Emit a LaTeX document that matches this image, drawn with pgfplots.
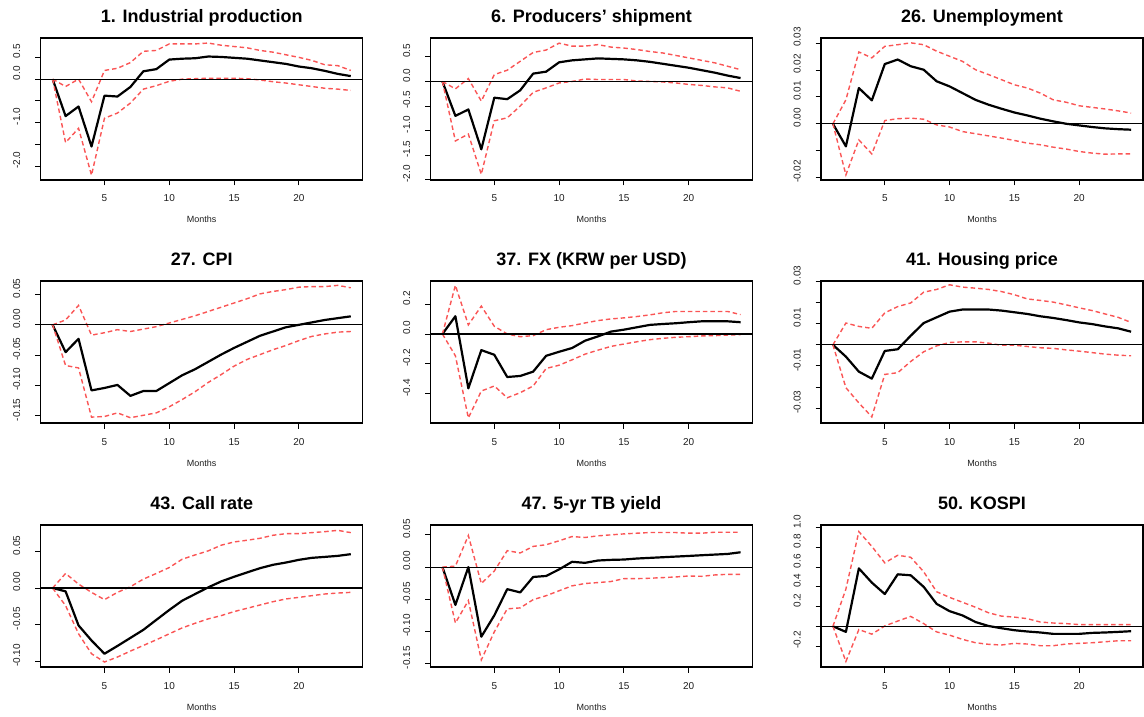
\documentclass[border=0pt]{standalone}
\usepackage{fontspec}
\setmainfont{Liberation Sans}
\usepackage{pgfplots}
\usepackage{pgfplotstable}
\pgfplotsset{compat=1.18}
\definecolor{cired}{RGB}{250,85,85}
\definecolor{txt}{RGB}{30,30,30}

% Panel data: month, impulse response, upper band, lower band
\pgfplotstableread{
m irf hi lo
1 0 0 0
2 -0.85 -0.17 -1.46
3 -0.63 0.00 -1.13
4 -1.55 -0.52 -2.21
5 -0.38 0.20 -0.90
6 -0.40 0.25 -0.78
7 -0.18 0.38 -0.55
8 0.18 0.64 -0.23
9 0.23 0.66 -0.15
10 0.45 0.81 -0.05
11 0.47 0.81 0.00
12 0.48 0.81 0.01
13 0.52 0.83 0.02
14 0.51 0.78 0.02
15 0.49 0.75 0.02
16 0.47 0.72 0.01
17 0.43 0.66 -0.02
18 0.39 0.62 -0.06
19 0.35 0.56 -0.09
20 0.29 0.50 -0.13
21 0.25 0.43 -0.17
22 0.19 0.33 -0.21
23 0.12 0.31 -0.23
24 0.07 0.20 -0.26
}\tabA
\pgfplotstableread{
m irf hi lo
1 0 0 0
2 -0.70 -0.15 -1.21
3 -0.57 0.06 -1.07
4 -1.38 -0.40 -1.89
5 -0.33 0.14 -0.80
6 -0.36 0.23 -0.74
7 -0.18 0.41 -0.50
8 0.16 0.59 -0.22
9 0.20 0.64 -0.13
10 0.39 0.78 -0.03
11 0.43 0.72 0.00
12 0.45 0.72 0.05
13 0.47 0.75 0.04
14 0.46 0.70 0.04
15 0.45 0.68 0.04
16 0.43 0.65 0.01
17 0.40 0.61 0.00
18 0.36 0.58 -0.01
19 0.32 0.53 -0.03
20 0.28 0.48 -0.06
21 0.23 0.43 -0.08
22 0.18 0.38 -0.11
23 0.12 0.31 -0.13
24 0.07 0.24 -0.20
}\tabB
\pgfplotstableread{
m irf hi lo
1 0 0 0
2 -0.0084 0.0089 -0.0190
3 0.0133 0.0267 -0.0060
4 0.0087 0.0245 -0.0112
5 0.0222 0.0288 0.0012
6 0.0239 0.0294 0.0019
7 0.0214 0.0301 0.0021
8 0.0201 0.0294 0.0017
9 0.0158 0.0270 -0.0004
10 0.0139 0.0251 -0.0012
11 0.0114 0.0232 -0.0029
12 0.0089 0.0201 -0.0037
13 0.0071 0.0183 -0.0045
14 0.0056 0.0164 -0.0053
15 0.0042 0.0145 -0.0062
16 0.0031 0.0133 -0.0072
17 0.0019 0.0114 -0.0078
18 0.0009 0.0089 -0.0087
19 0.0000 0.0080 -0.0094
20 -0.0006 0.0067 -0.0103
21 -0.0012 0.0061 -0.0109
22 -0.0017 0.0055 -0.0113
23 -0.0020 0.0048 -0.0112
24 -0.0022 0.0040 -0.0112
}\tabC
\pgfplotstableread{
m irf hi lo
1 0 0 0
2 -0.045 0.008 -0.067
3 -0.023 0.032 -0.071
4 -0.108 -0.017 -0.152
5 -0.104 -0.013 -0.151
6 -0.099 -0.008 -0.145
7 -0.117 -0.011 -0.153
8 -0.109 -0.007 -0.149
9 -0.109 -0.003 -0.145
10 -0.096 0.003 -0.135
11 -0.083 0.009 -0.123
12 -0.073 0.015 -0.110
13 -0.061 0.022 -0.095
14 -0.049 0.029 -0.082
15 -0.038 0.036 -0.068
16 -0.028 0.043 -0.057
17 -0.018 0.051 -0.049
18 -0.011 0.055 -0.041
19 -0.004 0.058 -0.034
20 0.000 0.062 -0.026
21 0.004 0.063 -0.019
22 0.008 0.063 -0.015
23 0.011 0.065 -0.012
24 0.014 0.061 -0.011
}\tabD
\pgfplotstableread{
m irf hi lo
1 0 0 0
2 0.119 0.326 -0.146
3 -0.364 0.061 -0.562
4 -0.108 0.187 -0.382
5 -0.139 0.052 -0.348
6 -0.288 0.000 -0.427
7 -0.281 -0.018 -0.393
8 -0.252 -0.011 -0.348
9 -0.146 0.029 -0.231
10 -0.119 0.045 -0.209
11 -0.094 0.056 -0.173
12 -0.045 0.074 -0.135
13 -0.016 0.090 -0.108
14 0.016 0.101 -0.083
15 0.029 0.108 -0.067
16 0.045 0.117 -0.052
17 0.061 0.128 -0.038
18 0.067 0.142 -0.029
19 0.072 0.151 -0.022
20 0.079 0.151 -0.018
21 0.085 0.151 -0.013
22 0.085 0.151 -0.011
23 0.085 0.151 -0.007
24 0.079 0.130 -0.004
}\tabE
\pgfplotstableread{
m irf hi lo
1 0 0 0
2 -0.0056 0.0103 -0.0203
3 -0.0127 0.0087 -0.0275
4 -0.0160 0.0078 -0.0341
5 -0.0029 0.0151 -0.0140
6 -0.0021 0.0181 -0.0132
7 0.0043 0.0198 -0.0079
8 0.0103 0.0249 -0.0033
9 0.0130 0.0262 -0.0005
10 0.0157 0.0284 0.0011
11 0.0167 0.0273 0.0014
12 0.0167 0.0268 0.0014
13 0.0167 0.0262 0.0008
14 0.0162 0.0252 -0.0002
15 0.0154 0.0237 -0.0002
16 0.0146 0.0217 -0.0008
17 0.0135 0.0210 -0.0014
18 0.0127 0.0202 -0.0017
19 0.0117 0.0189 -0.0024
20 0.0106 0.0175 -0.0030
21 0.0098 0.0162 -0.0037
22 0.0087 0.0146 -0.0044
23 0.0078 0.0130 -0.0049
24 0.0062 0.0106 -0.0052
}\tabF
\pgfplotstableread{
m irf hi lo
1 0 0 0
2 -0.0045 0.0199 -0.0240
3 -0.0510 0.0054 -0.0624
4 -0.0715 -0.0059 -0.0896
5 -0.0896 -0.0158 -0.1009
6 -0.0790 -0.0059 -0.0941
7 -0.0680 0.0018 -0.0860
8 -0.0570 0.0122 -0.0783
9 -0.0434 0.0199 -0.0706
10 -0.0299 0.0280 -0.0624
11 -0.0172 0.0394 -0.0543
12 -0.0081 0.0452 -0.0480
13 0.0009 0.0507 -0.0421
14 0.0090 0.0584 -0.0376
15 0.0154 0.0629 -0.0321
16 0.0213 0.0652 -0.0276
17 0.0271 0.0679 -0.0231
18 0.0317 0.0720 -0.0186
19 0.0348 0.0742 -0.0149
20 0.0385 0.0742 -0.0127
21 0.0412 0.0756 -0.0104
22 0.0425 0.0769 -0.0081
23 0.0439 0.0787 -0.0068
24 0.0462 0.0756 -0.0059
}\tabG
\pgfplotstableread{
m irf hi lo
1 0 0 0
2 -0.0587 0.0015 -0.0867
3 0.0000 0.0490 -0.0520
4 -0.1080 -0.0255 -0.1439
5 -0.0750 -0.0061 -0.1005
6 -0.0342 0.0255 -0.0648
7 -0.0393 0.0219 -0.0633
8 -0.0153 0.0321 -0.0505
9 -0.0138 0.0347 -0.0444
10 -0.0036 0.0408 -0.0367
11 0.0082 0.0474 -0.0291
12 0.0066 0.0459 -0.0255
13 0.0102 0.0485 -0.0240
14 0.0112 0.0500 -0.0224
15 0.0117 0.0515 -0.0179
16 0.0133 0.0526 -0.0179
17 0.0143 0.0536 -0.0173
18 0.0153 0.0536 -0.0163
19 0.0163 0.0536 -0.0153
20 0.0173 0.0526 -0.0138
21 0.0184 0.0526 -0.0143
22 0.0194 0.0541 -0.0122
23 0.0204 0.0541 -0.0112
24 0.0230 0.0541 -0.0112
}\tabH
\pgfplotstableread{
m irf hi lo
1 0 0 0
2 -0.057 0.377 -0.357
3 0.587 0.960 -0.033
4 0.443 0.810 -0.080
5 0.327 0.643 0.003
6 0.527 0.720 0.053
7 0.517 0.700 0.100
8 0.400 0.553 0.027
9 0.227 0.350 -0.057
10 0.153 0.293 -0.090
11 0.110 0.243 -0.133
12 0.043 0.193 -0.167
13 0.003 0.137 -0.183
14 -0.020 0.103 -0.190
15 -0.040 0.093 -0.173
16 -0.053 0.077 -0.180
17 -0.063 0.043 -0.197
18 -0.077 0.033 -0.197
19 -0.077 0.027 -0.180
20 -0.077 0.017 -0.173
21 -0.067 0.017 -0.167
22 -0.063 0.017 -0.157
23 -0.057 0.017 -0.147
24 -0.050 0.017 -0.147
}\tabI

\pgfplotsset{
  irf/.style={
    scale only axis, width=322pt, height=142pt,
    anchor=south west,
    xmin=0.08, xmax=24.92,
    xtick={5,10,15,20},
    scaled y ticks=false, scaled x ticks=false,
    tick pos=left, tick align=outside, major tick length=5.5pt,
    axis line style={line width=1.1pt, black},
    every tick/.style={black, line width=0.9pt},
    tick label style={font=\fontsize{10}{10}\selectfont, text=txt,
      /pgf/number format/assume math mode=true},
    xticklabel style={anchor=base, inner sep=0pt, yshift=-16.5pt},
    yticklabel style={rotate=90, anchor=base, inner sep=0pt, xshift=6pt, yshift=15pt},
    every axis title/.style={at={(axis description cs:0.5,1)}, anchor=base,
      yshift=15.5pt, font=\bfseries\fontsize{18}{18}\selectfont, text=black},
    xlabel={Months},
    every axis x label/.style={at={(axis description cs:0.5,0)}, anchor=base,
      yshift=-43pt, font=\fontsize{9}{9}\selectfont, text=txt},
    clip=true,
  },
  irfline/.style={black, line width=2.2pt, line join=round},
  ciline/.style={cired, line width=1.4pt, dash pattern=on 4.5pt off 3pt},
  zeroline/.style={black, line width=1.1pt},
}

\newcommand{\irfplots}[1]{%
  \addplot[irfline] table[x=m, y=irf] {#1};
  \addplot[ciline] table[x=m, y=hi] {#1};
  \addplot[ciline] table[x=m, y=lo] {#1};
  \addplot[zeroline] coordinates {(0.08,0) (24.92,0)};
}

\begin{document}
\begin{tikzpicture}
\useasboundingbox (0,0) rectangle (1144pt,716pt);

% Row 1
\begin{axis}[irf, at={(40.7pt,536pt)}, title={1. Industrial production},
  ymin=-2.32, ymax=0.946,
  ytick={-2,-1.5,-1,-0.5,0,0.5}, yticklabels={-2.0,,-1.0,,0.0,0.5}]
\irfplots{\tabA}
\end{axis}
\begin{axis}[irf, at={(430.5pt,536pt)}, title={6. Producers' shipment},
  ymin=-2.005, ymax=0.885,
  ytick={-2,-1.5,-1,-0.5,0,0.5}, yticklabels={-2.0,-1.5,-1.0,-0.5,0.0,0.5}]
\irfplots{\tabB}
\end{axis}
\begin{axis}[irf, at={(821pt,536pt)}, title={26. Unemployment},
  ymin=-0.0209, ymax=0.0319,
  ytick={-0.02,-0.01,0,0.01,0.02,0.03}, yticklabels={-0.02,,0.00,0.01,0.02,0.03}]
\irfplots{\tabC}
\end{axis}

% Row 2
\begin{axis}[irf, at={(40.7pt,293pt)}, title={27. CPI},
  ymin=-0.1617, ymax=0.0722,
  ytick={-0.15,-0.1,-0.05,0,0.05}, yticklabels={-0.15,-0.10,-0.05,0.00,0.05}]
\irfplots{\tabD}
\end{axis}
\begin{axis}[irf, at={(430.5pt,293pt)}, title={37. FX (KRW per USD)},
  ymin=-0.596, ymax=0.355,
  ytick={-0.4,-0.2,0,0.2}, yticklabels={-0.4,-0.2,0.0,0.2}]
\irfplots{\tabE}
\end{axis}
\begin{axis}[irf, at={(821pt,293pt)}, title={41. Housing price},
  ymin=-0.037, ymax=0.0302,
  ytick={-0.03,-0.02,-0.01,0,0.01,0.02,0.03}, yticklabels={-0.03,,-0.01,,0.01,,0.03}]
\irfplots{\tabF}
\end{axis}

% Row 3
\begin{axis}[irf, at={(40.7pt,49pt)}, title={43. Call rate},
  ymin=-0.1077, ymax=0.086,
  ytick={-0.1,-0.05,0,0.05}, yticklabels={-0.10,-0.05,0.00,0.05}]
\irfplots{\tabG}
\end{axis}
\begin{axis}[irf, at={(430.5pt,49pt)}, title={47. 5-yr TB yield},
  ymin=-0.155, ymax=0.0653,
  ytick={-0.15,-0.1,-0.05,0,0.05}, yticklabels={-0.15,-0.10,-0.05,0.00,0.05}]
\irfplots{\tabH}
\end{axis}
\begin{axis}[irf, at={(821pt,49pt)}, title={50. KOSPI},
  ymin=-0.413, ymax=1.027,
  ytick={-0.2,0,0.2,0.4,0.6,0.8,1.0}, yticklabels={-0.2,,0.2,0.4,0.6,0.8,1.0}]
\irfplots{\tabI}
\end{axis}
\end{tikzpicture}
\end{document}
